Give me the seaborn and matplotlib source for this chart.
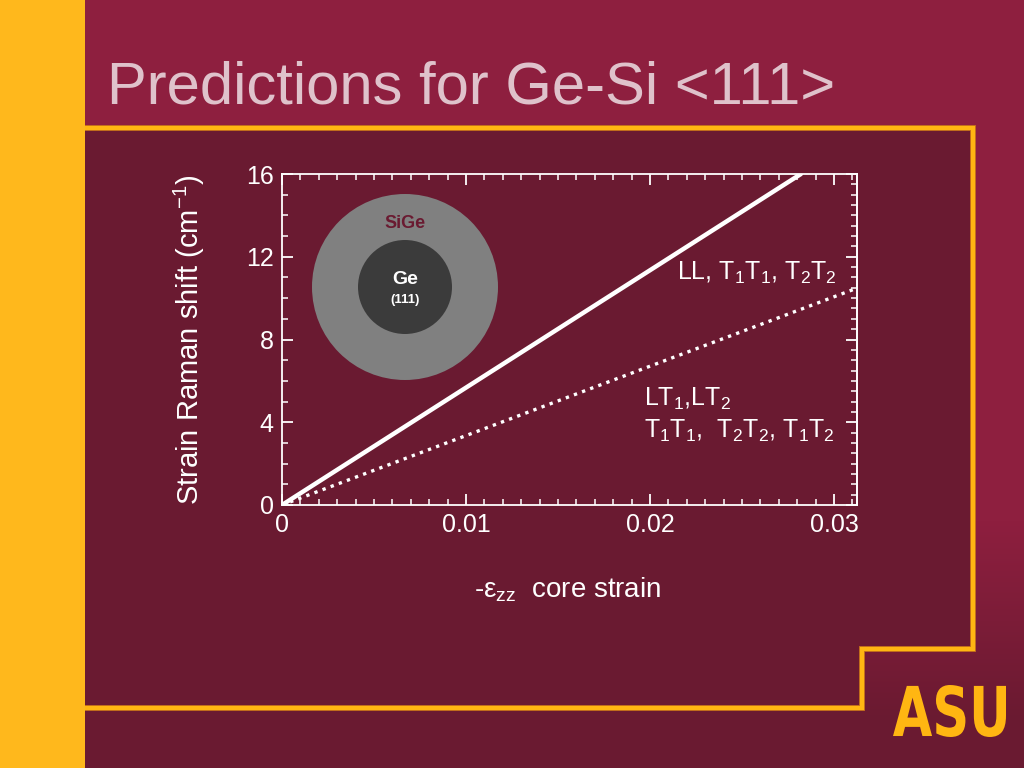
import matplotlib
matplotlib.use("Agg")
import matplotlib.pyplot as plt
import numpy as np
import pandas as pd
import seaborn as sns
import matplotlib.patheffects as pe
from matplotlib.patches import Circle, Rectangle, PathPatch
from matplotlib.textpath import TextPath
from matplotlib.font_manager import FontProperties
from matplotlib.transforms import Affine2D
from matplotlib.ticker import MultipleLocator

# values
strain_ll = [0.0, 0.0282]          # LL, T1T1, T2T2 (solid)
shift_ll = [0.0, 16.0]
strain_lt = [0.0, 0.0313]          # LT1, LT2, T1T1, T2T2, T1T2 (dotted)
shift_lt = [0.0, 10.5]
x_ticks = [0, 0.01, 0.02, 0.03]
x_tick_labels = ["0", "0.01", "0.02", "0.03"]
y_ticks = [0, 4, 8, 12, 16]

MAROON_LIGHT = np.array([0x8e, 0x1f, 0x3f]) / 255
MAROON_DARK = np.array([0x6a, 0x1a, 0x31]) / 255
GOLD = "#ffb612"
TITLE_COLOR = "#dfc2cb"

sns.set_theme(style="ticks")
plt.rcParams["font.family"] = ["Liberation Sans", "DejaVu Sans"]
plt.rcParams["mathtext.default"] = "regular"

fig = plt.figure(figsize=(10.24, 7.68), dpi=100)

# slide background, drawn in pixel coordinates
bg = fig.add_axes([0, 0, 1, 1], zorder=0)
bg.set_xlim(0, 1024)
bg.set_ylim(768, 0)
bg.axis("off")

rows = np.arange(768)
mix = np.clip((rows - 520) / 200, 0, 1)[:, None]
grad = (1 - mix) * MAROON_LIGHT + mix * MAROON_DARK
bg.imshow(grad[:, None, :], extent=(0, 1024, 768, 0), aspect="auto", zorder=0)

panel_x = [85, 973, 973, 862, 862, 85]
panel_y = [128, 128, 649, 649, 708, 708]
bg.fill(panel_x, panel_y, color=MAROON_DARK, zorder=1, lw=0)
bg.add_patch(Rectangle((85, 708), 777, 60, color=MAROON_DARK, zorder=1, lw=0))
bg.plot(panel_x, panel_y, color=GOLD, lw=2.9, zorder=2, solid_joinstyle="miter",
        path_effects=[pe.Stroke(linewidth=4.2, foreground="#c8741c"), pe.Normal()])
bg.add_patch(Rectangle((0, 0), 85, 768, color="#ffb81c", zorder=3, lw=0))

bg.text(107, 103, "Predictions for Ge-Si <111>", fontsize=43, color=TITLE_COLOR,
        va="baseline", ha="left", zorder=4)

# core/shell sketch
bg.add_patch(Circle((405, 287), 93, color="#808080", zorder=3, lw=0))
bg.add_patch(Circle((405, 287), 47, color="#3b3b3b", zorder=4, lw=0))
bg.text(405, 223, "SiGe", fontsize=13, fontweight="bold", color="#6a1a31",
        ha="center", va="center", zorder=5)
bg.text(405, 280, "Ge", fontsize=14, fontweight="bold", color="white",
        ha="center", va="center", zorder=5)
bg.text(405, 300, "(111)", fontsize=9.5, fontweight="bold", color="white",
        ha="center", va="center", zorder=5)

# ASU mark, squeezed into its box
logo = TextPath((0, 0), "ASU", size=100, prop=FontProperties(family="DejaVu Sans", weight="heavy"))
ext = logo.get_extents()
tr = (Affine2D().translate(-ext.x0, -ext.y0)
      .scale(113 / ext.width, -52 / ext.height).translate(893, 737))
bg.add_patch(PathPatch(tr.transform_path(logo), color=GOLD, lw=0, zorder=5))

# the chart itself
ax = fig.add_axes([282 / 1024, (768 - 505) / 768, 575 / 1024, 331 / 768], zorder=2)
ax.set_facecolor("none")

df_ll = pd.DataFrame({"strain": strain_ll, "shift": shift_ll})
df_lt = pd.DataFrame({"strain": strain_lt, "shift": shift_lt})
sns.lineplot(data=df_ll, x="strain", y="shift", ax=ax, color="white", lw=3.2)
sns.lineplot(data=df_lt, x="strain", y="shift", ax=ax, color="white", lw=2.4,
             linestyle=(0, (1, 1.6)))

ax.set_xlim(0, 0.03125)
ax.set_ylim(0, 16)
ax.set_xticks(x_ticks)
ax.set_xticklabels(x_tick_labels)
ax.set_yticks(y_ticks)
ax.xaxis.set_minor_locator(MultipleLocator(0.001))
ax.yaxis.set_minor_locator(MultipleLocator(1))
for s in ax.spines.values():
    s.set_color("white")
    s.set_linewidth(1.3)
ax.tick_params(which="both", direction="in", top=True, right=False, colors="white",
               labelsize=18)
ax.tick_params(which="major", length=8, width=1.3, pad=6)
ax.tick_params(which="minor", length=4, width=1.1)

sec = ax.secondary_yaxis("right")
sec.set_yticks(y_ticks)
sec.yaxis.set_minor_locator(MultipleLocator(0.5))
sec.tick_params(which="both", direction="in", labelright=False, colors="white")
sec.tick_params(which="major", length=8, width=1.3)
sec.tick_params(which="minor", length=4, width=1.1)
sec.spines["right"].set_color("white")
sec.spines["right"].set_linewidth(1.3)

ax.set_xlabel(r"-$\varepsilon_{zz}$  core strain", fontsize=20, color="white")
ax.set_ylabel(r"Strain Raman shift (cm$^{-1}$)", fontsize=21, color="white")
ax.xaxis.set_label_coords(0.497, -0.214)
ax.yaxis.set_label_coords(-0.13, 0.5)

ax.text(0.965, 0.70, "LL, T$_1$T$_1$, T$_2$T$_2$", transform=ax.transAxes,
        fontsize=18, color="white", ha="right", va="center")
ax.text(0.63, 0.32, "LT$_1$,LT$_2$", transform=ax.transAxes,
        fontsize=18, color="white", ha="left", va="center")
ax.text(0.63, 0.225, "T$_1$T$_1$,  T$_2$T$_2$, T$_1$T$_2$", transform=ax.transAxes,
        fontsize=18, color="white", ha="left", va="center")

fig.savefig("out.png", dpi=100, facecolor=fig.get_facecolor())
